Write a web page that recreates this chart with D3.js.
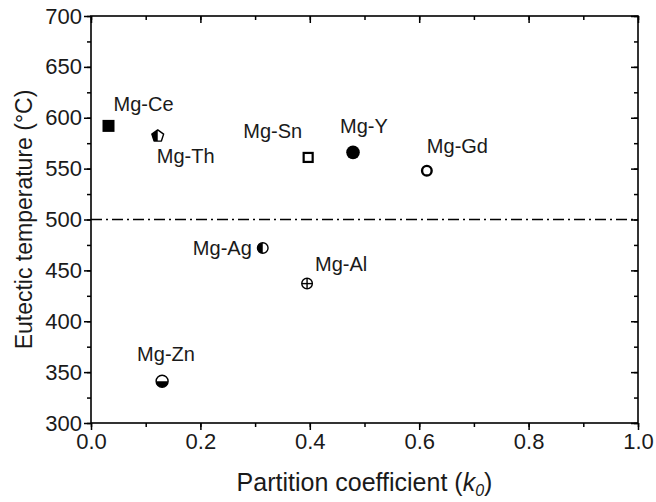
<!DOCTYPE html>
<html>
<head>
<meta charset="utf-8">
<script src="https://cdn.jsdelivr.net/npm/d3@7"></script>
<style>
  html, body { margin: 0; padding: 0; background: #fff; }
  svg { display: block; font-family: Arial, "Liberation Sans", sans-serif; }
</style>
</head>
<body>
<svg id="chart" width="656" height="502"></svg>
<script>
// Binary Mg systems: equilibrium partition coefficient k0 and eutectic temperature
const systems = ["Mg-Ce", "Mg-Th", "Mg-Sn", "Mg-Y", "Mg-Gd", "Mg-Ag", "Mg-Al", "Mg-Zn"];
const partitionCoeff = [0.032, 0.122, 0.397, 0.479, 0.614, 0.314, 0.395, 0.13];
const eutecticTemp = [592, 582, 561, 566, 548, 472, 437, 341];
const xTicks = [0.0, 0.2, 0.4, 0.6, 0.8, 1.0];
const yTicks = [300, 350, 400, 450, 500, 550, 600, 650, 700];
const referenceTemp = 500;

// marker style for each system
const markerKind = {
  "Mg-Ce": "squareFilled",
  "Mg-Th": "pentagonHalf",
  "Mg-Sn": "squareOpen",
  "Mg-Y": "circleFilled",
  "Mg-Gd": "circleOpen",
  "Mg-Ag": "circleHalfLeft",
  "Mg-Al": "circlePlus",
  "Mg-Zn": "circleHalfBottom"
};
// label placement relative to marker: dx, dy (baseline), anchor
const labelPos = {
  "Mg-Ce": [5, -15, "start"],
  "Mg-Th": [-1, 27, "start"],
  "Mg-Sn": [-6, -19, "end"],
  "Mg-Y": [-13, -19, "start"],
  "Mg-Gd": [0, -18, "start"],
  "Mg-Ag": [-11, 7, "end"],
  "Mg-Al": [8, -13, "start"],
  "Mg-Zn": [-25, -20, "start"]
};

const svg = d3.select("#chart");
const m = { left: 91, right: 638, top: 16, bottom: 423 };
const x = d3.scaleLinear().domain([0, 1]).range([m.left, m.right]);
const y = d3.scaleLinear().domain([300, 700]).range([m.bottom, m.top]);

const axisColor = "#000";
const tickFont = 22;

// frame
svg.append("rect")
  .attr("x", m.left).attr("y", m.top)
  .attr("width", m.right - m.left).attr("height", m.bottom - m.top)
  .attr("fill", "none").attr("stroke", axisColor).attr("stroke-width", 1.6);

// minor ticks
const xMinor = d3.range(0, 1.0001, 0.1);
const yMinor = d3.range(300, 700.001, 25);

function styleAxis(g) {
  g.select(".domain").remove();
  g.selectAll(".tick line").attr("stroke", axisColor).attr("stroke-width", 1.5);
  g.selectAll(".tick text").attr("font-size", tickFont).attr("fill", "#1a1a1a")
    .attr("font-family", "Arial, 'Liberation Sans', sans-serif");
}

// bottom axis (outward ticks)
svg.append("g").attr("transform", `translate(0,${m.bottom})`)
  .call(d3.axisBottom(x).tickValues(xMinor).tickSize(4).tickFormat(""))
  .call(styleAxis);
svg.append("g").attr("transform", `translate(0,${m.bottom})`)
  .call(d3.axisBottom(x).tickValues(xTicks).tickSize(7).tickPadding(3).tickFormat(d3.format(".1f")))
  .call(styleAxis);

// left axis (outward ticks)
svg.append("g").attr("transform", `translate(${m.left},0)`)
  .call(d3.axisLeft(y).tickValues(yMinor).tickSize(4).tickFormat(""))
  .call(styleAxis);
svg.append("g").attr("transform", `translate(${m.left},0)`)
  .call(d3.axisLeft(y).tickValues(yTicks).tickSize(7).tickPadding(2).tickFormat(d3.format("d")))
  .call(styleAxis);

// top and right mirror ticks pointing inward
svg.append("g").attr("transform", `translate(0,${m.top})`)
  .call(d3.axisBottom(x).tickValues(xMinor).tickSize(4).tickFormat(""))
  .call(styleAxis);
svg.append("g").attr("transform", `translate(0,${m.top})`)
  .call(d3.axisBottom(x).tickValues(xTicks).tickSize(7).tickFormat(""))
  .call(styleAxis);
svg.append("g").attr("transform", `translate(${m.right},0)`)
  .call(d3.axisLeft(y).tickValues(yMinor).tickSize(4).tickFormat(""))
  .call(styleAxis);
svg.append("g").attr("transform", `translate(${m.right},0)`)
  .call(d3.axisLeft(y).tickValues(yTicks).tickSize(7).tickFormat(""))
  .call(styleAxis);

// dash-dot reference line
svg.append("line")
  .attr("x1", x(0)).attr("x2", x(1))
  .attr("y1", y(referenceTemp)).attr("y2", y(referenceTemp))
  .attr("stroke", "#000").attr("stroke-width", 1.3)
  .attr("stroke-dasharray", "11,4,2,4");

// axis titles
svg.append("text")
  .attr("x", (m.left + m.right) / 2).attr("y", 491)
  .attr("text-anchor", "middle").attr("font-size", 25).attr("fill", "#1a1a1a")
  .call(t => {
    t.append("tspan").text("Partition coefficient (");
    t.append("tspan").attr("font-style", "italic").text("k");
    t.append("tspan").attr("font-style", "italic").attr("font-size", 16).attr("dy", 5).text("0");
    t.append("tspan").attr("dy", -5).text(")");
  });
svg.append("text")
  .attr("transform", `translate(32,${(m.top + m.bottom) / 2}) rotate(-90)`)
  .attr("text-anchor", "middle").attr("font-size", 23).attr("fill", "#1a1a1a")
  .text("Eutectic temperature (°C)");

// markers
const arc = d3.arc();
function drawMarker(g, kind) {
  const sw = 1.4;
  switch (kind) {
    case "squareFilled":
      g.append("rect").attr("x", -6).attr("y", -6).attr("width", 12).attr("height", 12).attr("fill", "#000");
      break;
    case "squareOpen":
      g.append("rect").attr("x", -4.5).attr("y", -4.5).attr("width", 9).attr("height", 9)
        .attr("fill", "#fff").attr("stroke", "#000").attr("stroke-width", 2.2);
      break;
    case "circleFilled":
      g.append("circle").attr("r", 6.8).attr("fill", "#000");
      break;
    case "circleOpen":
      g.append("circle").attr("r", 4.8).attr("fill", "#fff").attr("stroke", "#000").attr("stroke-width", 2.4);
      break;
    case "circleHalfLeft":
      g.append("circle").attr("r", 5.3).attr("fill", "#fff").attr("stroke", "#000").attr("stroke-width", sw);
      g.append("path").attr("d", arc({ innerRadius: 0, outerRadius: 5.3, startAngle: Math.PI, endAngle: 2 * Math.PI })).attr("fill", "#000");
      break;
    case "circleHalfBottom":
      g.append("circle").attr("r", 6).attr("fill", "#fff").attr("stroke", "#000").attr("stroke-width", sw);
      g.append("path").attr("d", arc({ innerRadius: 0, outerRadius: 6, startAngle: Math.PI / 2, endAngle: 1.5 * Math.PI })).attr("fill", "#000");
      break;
    case "circlePlus":
      g.append("circle").attr("r", 5.3).attr("fill", "#fff").attr("stroke", "#000").attr("stroke-width", sw);
      g.append("line").attr("x1", -5.3).attr("x2", 5.3).attr("stroke", "#000").attr("stroke-width", sw);
      g.append("line").attr("y1", -5.3).attr("y2", 5.3).attr("stroke", "#000").attr("stroke-width", sw);
      break;
    case "pentagonHalf": {
      const pr = 6.2;
      const pts = d3.range(5).map(i => {
        const a = -Math.PI / 2 + i * 2 * Math.PI / 5;
        return [pr * Math.cos(a), pr * Math.sin(a)];
      });
      const d = "M" + pts.map(p => p.join(",")).join("L") + "Z";
      const id = "clipPent";
      g.append("clipPath").attr("id", id).append("rect").attr("x", -8).attr("y", -8).attr("width", 8).attr("height", 16);
      g.append("path").attr("d", d).attr("fill", "#fff");
      g.append("path").attr("d", d).attr("fill", "#000").attr("clip-path", `url(#${id})`);
      g.append("path").attr("d", d).attr("fill", "none").attr("stroke", "#000").attr("stroke-width", sw).attr("stroke-linejoin", "round");
      break;
    }
  }
}

const points = systems.map((s, i) => ({ name: s, k: partitionCoeff[i], t: eutecticTemp[i] }));
const pg = svg.selectAll("g.pt").data(points).join("g").attr("class", "pt")
  .attr("transform", d => `translate(${x(d.k)},${y(d.t)})`);
pg.each(function (d) { drawMarker(d3.select(this), markerKind[d.name]); });
pg.append("text")
  .attr("x", d => labelPos[d.name][0])
  .attr("y", d => labelPos[d.name][1])
  .attr("text-anchor", d => labelPos[d.name][2])
  .attr("font-size", 20).attr("fill", "#1a1a1a")
  .text(d => d.name);
</script>
</body>
</html>
